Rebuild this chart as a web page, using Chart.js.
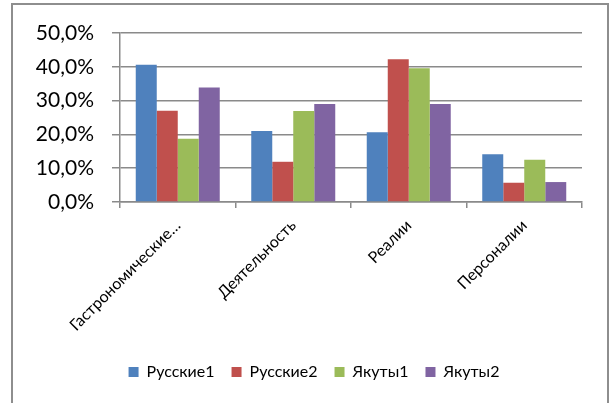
<!DOCTYPE html>
<html>
<head>
<meta charset="utf-8">
<script src="https://cdn.jsdelivr.net/npm/chart.js@4/dist/chart.umd.min.js"></script>
<style>
  html, body { margin: 0; padding: 0; background: #fff; overflow: hidden; }
  #wrap { position: relative; width: 615px; height: 403px; }
  #rama {
    position: absolute; left: 11px; top: 3px; width: 598px; height: 440px;
    border: 2px solid #8e8e8e; box-sizing: border-box;
  }
  canvas { position: absolute; left: 0; top: 0; }
</style>
</head>
<body>
<div id="wrap">
  <div id="rama"></div>
  <canvas id="grafico" width="615" height="403"></canvas>
</div>
<script>
/* Категории и ряды */
const KATEGORII = ["Гастрономические…", "Деятельность", "Реалии", "Персоналии"];
const RUSSKIE1 = [40.6, 21.0, 20.6, 14.1];
const RUSSKIE2 = [27.0, 11.9, 42.2, 5.7];
const YAKUTY1 = [18.7, 26.9, 39.6, 12.5];
const YAKUTY2 = [33.9, 29.0, 29.0, 5.9];
const SERII = ["Русские1", "Русские2", "Якуты1", "Якуты2"];
const CVETA = ["#4f81bd", "#c0504d", "#9bbb59", "#8064a2"];

const SHRIFT = "Lato, 'Liberation Sans', sans-serif";

function nabor(i, data) {
  return {
    label: SERII[i],
    data,
    backgroundColor: CVETA[i],
    borderWidth: 0,
    categoryPercentage: 4 / 5.5,
    barPercentage: 1,
  };
}

// легенда по центру рамки, а не области графика
const sdvigLegendy = {
  id: "sdvigLegendy",
  afterLayout(chart) {
    const lg = chart.legend;
    if (!lg) return;
    lg.left += 23;
    lg.right += 23;
    lg.adjustHitBoxes();
  },
};

new Chart(document.getElementById("grafico"), {
  type: "bar",
  data: {
    labels: KATEGORII,
    datasets: [
      nabor(0, RUSSKIE1),
      nabor(1, RUSSKIE2),
      nabor(2, YAKUTY1),
      nabor(3, YAKUTY2),
    ],
  },
  options: {
    responsive: false,
    animation: false,
    layout: { padding: { left: 0, right: 33, top: 33, bottom: 13 } },
    plugins: {
      tooltip: { enabled: false },
      legend: {
        position: "bottom",
        labels: {
          boxWidth: 10, boxHeight: 10, padding: 17,
          color: "#000", font: { family: SHRIFT, size: 16 },
        },
      },
    },
    scales: {
      x: {
        offset: true,
        grid: { display: true, offset: true, drawOnChartArea: false, tickLength: 6, color: "#8a8a8a", lineWidth: 1.5 },
        border: { display: true, color: "#8a8a8a", width: 1.5 },
        ticks: {
          maxRotation: 45, minRotation: 45, autoSkip: false, padding: 8,
          color: "#000", font: { family: SHRIFT, size: 16 },
        },
        afterFit(s) { s.height = 145; },
      },
      y: {
        min: 0, max: 50,
        ticks: {
          stepSize: 10, padding: 18, color: "#000",
          font: { family: SHRIFT, size: 21 },
          callback: v => v.toFixed(1).replace(".", ",") + "%",
        },
        grid: { color: "#8a8a8a", lineWidth: 1.5, tickLength: 8 },
        border: { display: true, color: "#8a8a8a", width: 1.5 },
        afterFit(s) { s.width = 120; },
      },
    },
  },
  plugins: [sdvigLegendy],
});
</script>
</body>
</html>
